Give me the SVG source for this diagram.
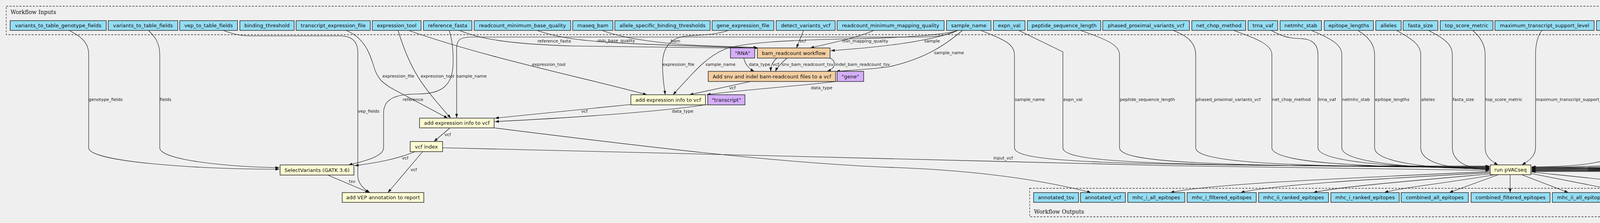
<svg xmlns="http://www.w3.org/2000/svg" width="5871" height="572" viewBox="0 0 5871 572">
<style>
.bg{fill:#efefef}
.cl{fill:none;stroke:#333;stroke-width:1.3;stroke-dasharray:5,3.5}
.ct{font-family:"DejaVu Serif","Liberation Serif",serif;font-size:14px;fill:#111}
.n rect{stroke:#2b2b2b;stroke-width:1.5}
.n text{font-family:"DejaVu Sans","Liberation Sans",sans-serif;font-size:13px;fill:#111;text-anchor:middle}
.inp rect{fill:#94ddf4}
.stp rect{fill:#fcfcd4}
.sub rect{fill:#f3cea1}
.cst rect{fill:#d5aefc}
.e path{fill:none;stroke:#111;stroke-width:1.1;marker-end:url(#ah)}
.e text{font-family:"DejaVu Sans","Liberation Sans",sans-serif;font-size:11px;fill:#222}
</style>
<defs>
<marker id="ah" markerUnits="userSpaceOnUse" markerWidth="10" markerHeight="8" refX="10" refY="3.5" orient="auto"><path d="M0,0 L10,3.5 L0,7 z" fill="#111"/></marker>
</defs>
<rect class="bg" x="0" y="0" width="5871" height="572"/>
<g id="cluster_inputs"><rect class="cl" x="16" y="16" width="5838" height="73"/><text class="ct" x="27" y="36">Workflow Inputs</text></g>
<g id="cluster_outputs"><rect class="cl" x="2636" y="483" width="1892" height="73"/><text class="ct" x="2647" y="548">Workflow Outputs</text></g>

<g id="connectors" class="e">
<path d="M177,78 C210,95 227,110 227,140 L227,379 C227,415 500,434 715,434"/>
<path d="M380,78 C398,95 409,112 409,140 L409,379 C409,412 600,429 715,430"/>
<path d="M1150,78 C1160,110 1160,140 1160,160 C1160,220 1130,241 1070,241 C1010,241 982,255 982,290 L982,379 C982,400 940,412 892,423"/>
<path d="M1063,389 C1010,410 960,418 908,425"/>
<path d="M571,78 C600,88 615,92 640,92 L870,92 C905,92 916,110 916,135 L916,450 C916,470 930,484 947,494"/>
<path d="M839,449 L945,494"/>
<path d="M1082,389 L993,494"/>
<path d="M1152,328 L1111,363"/>
<path d="M886,78 C940,100 950,150 960,180 C970,205 980,212 1000,225 L1146,303"/>
<path d="M1019,78 C1050,180 1080,220 1154,303"/>
<path d="M2450,78 C2430,90 2400,95 2350,95 L1210,95 C1180,95 1169,100 1169,125 L1169,302"/>
<path d="M1615,268 L1267,303"/>
<path d="M1812,268 C1700,285 1500,300 1267,312"/>
<path d="M1265,328 C1600,370 2000,420 2300,430 C2550,440 2700,470 2793,494"/>
<path d="M1133,379 C1800,395 2600,415 3000,425 C3400,432 3700,437 3813,437"/>
<path d="M1046,78 C1250,150 1500,200 1656,243"/>
<path d="M1865,78 C1830,90 1790,90 1760,92 C1710,96 1696,130 1696,165 C1696,200 1700,220 1703,243"/>
<path d="M2452,78 C2420,90 2300,97 2200,99 C2000,103 1900,110 1856,126 C1810,145 1780,180 1723,243"/>
<path d="M1922,209 L1765,243"/>
<path d="M2142,209 C2000,225 1900,230 1809,243"/>
<path d="M1541,78 C1600,100 1700,113 1800,117 C1880,120 1920,121 1939,122"/>
<path d="M1374,78 C1410,90 1440,96 1470,100 C1530,109 1650,115 1939,123"/>
<path d="M1176,78 C1230,100 1300,113 1470,118 C1700,122 1850,123 1939,124"/>
<path d="M2057,78 L2039,123"/>
<path d="M2237,78 C2200,95 2130,110 2074,123"/>
<path d="M2452,78 C2400,100 2300,118 2127,130"/>
<path d="M1904,149 C1908,165 1915,175 1931,183"/>
<path d="M1989,149 C1978,158 1973,170 1973,183"/>
<path d="M2015,149 C2000,162 1990,172 1985,183"/>
<path d="M2125,149 C2142,158 2140,175 2117,183"/>
<path d="M2464,78 C2420,115 2370,150 2277,171 C2230,178 2180,180 2140,183"/>
<path d="M2511,78 C2560,98 2597,110 2597,140 L2597,379 C2597,415 2797,426 3813,426"/>
<path d="M2608,78 L2721,133 L2721,379 C2721,415 2921,427 3813,427"/>
<path d="M2766,78 C2830,100 2866,115 2866,140 L2866,379 C2866,415 3066,428 3813,428"/>
<path d="M3003,78 C3040,92 3061,110 3061,140 L3061,379 C3061,415 3261,429 3813,429"/>
<path d="M3158,78 C3220,100 3256,115 3256,140 L3256,379 C3256,415 3456,430 3813,430"/>
<path d="M3254,78 C3280,92 3295,98 3330,99 C3360,100 3374,115 3374,140 L3374,379 C3374,415 3574,431 3813,431"/>
<path d="M3357,78 C3410,100 3435,115 3435,140 L3435,379 C3435,415 3600,432 3813,432"/>
<path d="M3476,78 C3505,95 3519,115 3519,140 L3519,379 C3519,415 3650,433 3813,433"/>
<path d="M3575,78 C3615,100 3637,115 3637,140 L3637,379 C3637,415 3700,434 3813,434"/>
<path d="M3657,78 C3700,100 3718,115 3718,140 L3718,379 C3718,415 3760,435 3813,435"/>
<path d="M3770,78 C3790,95 3802,115 3802,140 L3802,379 C3802,400 3815,412 3835,423"/>
<path d="M3947,78 C3935,95 3931,115 3931,140 L3931,379 C3931,400 3915,412 3896,423"/>
<path d="M4164,78 C4155,95 4150,115 4150,140 L4150,379 C4150,415 4050,428 3921,428"/>
<path d="M4299,78 C4295,95 4292,115 4292,140 L4292,379 C4292,415 4150,429 3921,429"/>
<path d="M4425,78 C4405,98 4397,115 4397,140 L4397,379 C4397,415 4250,430 3921,430"/>
<path d="M4570,78 C4558,98 4553,115 4553,140 L4553,379 C4553,415 4400,431 3921,431"/>
<path d="M4665,78 C4653,98 4649,115 4649,140 L4649,379 C4649,415 4500,432 3921,432"/>
<path d="M4779,78 C4757,98 4749,115 4749,140 L4749,379 C4749,415 4600,433 3921,433"/>
<path d="M4958,78 C4925,98 4913,115 4913,140 L4913,379 C4913,415 4750,434 3921,434"/>
<path d="M5128,78 C5118,98 5114,115 5114,140 L5114,379 C5114,415 4950,435 3921,435"/>
<path d="M5224,78 C5210,98 5204,115 5204,140 L5204,379 C5204,415 5050,436 3921,436"/>
<path d="M5366,78 C5340,98 5329,115 5329,140 L5329,379 C5329,415 5150,437 3921,437"/>
<path d="M5531,78 C5518,98 5512,115 5512,140 L5512,379 C5512,415 5350,438 3921,438"/>
<path d="M5663,78 C5640,98 5632,115 5632,140 L5632,379 C5632,415 5450,439 3921,439"/>
<path d="M5797,78 C5787,98 5783,115 5783,140 L5783,379 C5783,415 5600,440 3921,440"/>
<path d="M3815,440 C3500,455 3100,470 2996,494"/>
<path d="M3815,443 C3500,460 3250,475 3176,494"/>
<path d="M3815,446 C3600,465 3420,480 3362,494"/>
<path d="M3828,448 C3700,470 3580,482 3544,494"/>
<path d="M3836,448 L3710,494"/>
<path d="M3866,448 L3866,494"/>
<path d="M3895,448 L4015,494"/>
<path d="M3919,445 L4168,494"/>
<path d="M3919,441 C4100,460 4300,480 4364,494"/>
<text x="227" y="259">genotype_fields</text>
<text x="409" y="259">fields</text>
<text x="1031" y="259">reference</text>
<text x="1029" y="409">vcf</text>
<text x="916" y="289">vep_fields</text>
<text x="893" y="469">tsv</text>
<text x="1051" y="439">vcf</text>
<text x="1138" y="349">vcf</text>
<text x="979" y="199">expression_file</text>
<text x="1077" y="199">expression_tool</text>
<text x="1169" y="199">sample_name</text>
<text x="1488" y="289">vcf</text>
<text x="1720" y="289">data_type</text>
<text x="2543" y="409">input_vcf</text>
<text x="1362" y="169">expression_tool</text>
<text x="1696" y="169">expression_file</text>
<text x="1806" y="169">sample_name</text>
<text x="1867" y="229">vcf</text>
<text x="2076" y="229">data_type</text>
<text x="1717" y="109">bam</text>
<text x="1530" y="108">min_base_quality</text>
<text x="1376" y="109">reference_fasta</text>
<text x="2047" y="109">vcf</text>
<text x="2156" y="109">min_mapping_quality</text>
<text x="2366" y="109">sample</text>
<text x="1917" y="169">data_type</text>
<text x="1978" y="169">vcf</text>
<text x="2001" y="169">snv_bam_readcount_tsv</text>
<text x="2138" y="169">indel_bam_readcount_tsv</text>
<text x="2391" y="139">sample_name</text>
<text x="2598" y="259">sample_name</text>
<text x="2722" y="259">expn_val</text>
<text x="2867" y="259">peptide_sequence_length</text>
<text x="3062" y="259">phased_proximal_variants_vcf</text>
<text x="3257" y="259">net_chop_method</text>
<text x="3375" y="259">trna_vaf</text>
<text x="3436" y="259">netmhc_stab</text>
<text x="3520" y="259">epitope_lengths</text>
<text x="3638" y="259">alleles</text>
<text x="3719" y="259">fasta_size</text>
<text x="3803" y="259">top_score_metric</text>
<text x="3932" y="259">maximum_transcript_support_level</text>
<text x="4151" y="259">normal_sample_name</text>
<text x="4293" y="259">n_threads</text>
<text x="4398" y="259">minimum_fold_change</text>
<text x="4554" y="259">normal_cov</text>
<text x="4650" y="259">tdna_vaf</text>
<text x="4750" y="259">net_chop_threshold</text>
<text x="4914" y="259">downstream_sequence_length</text>
<text x="5115" y="259">tdna_cov</text>
<text x="5205" y="259">normal_vaf</text>
<text x="5330" y="259">additional_report_columns</text>
<text x="5513" y="259">exclude_nas</text>
<text x="5633" y="259">prediction_algorithms</text>
<text x="5784" y="259">trna_cov</text>
</g>

<g id="in_variants_to_table_genotype_fields" class="n inp"><rect x="26" y="53" width="246" height="25"/><text x="149" y="70">variants_to_table_genotype_fields</text></g>
<g id="in_variants_to_table_fields" class="n inp"><rect x="277" y="53" width="178" height="25"/><text x="366" y="70">variants_to_table_fields</text></g>
<g id="in_vep_to_table_fields" class="n inp"><rect x="460" y="53" width="148" height="25"/><text x="534" y="70">vep_to_table_fields</text></g>
<g id="in_binding_threshold" class="n inp"><rect x="614" y="53" width="139" height="25"/><text x="683.5" y="70">binding_threshold</text></g>
<g id="in_transcript_expression_file" class="n inp"><rect x="758" y="53" width="190" height="25"/><text x="853" y="70">transcript_expression_file</text></g>
<g id="in_expression_tool" class="n inp"><rect x="953" y="53" width="125" height="25"/><text x="1015.5" y="70">expression_tool</text></g>
<g id="in_reference_fasta" class="n inp"><rect x="1084" y="53" width="124" height="25"/><text x="1146" y="70">reference_fasta</text></g>
<g id="in_readcount_minimum_base_quality" class="n inp"><rect x="1214" y="53" width="247" height="25"/><text x="1337.5" y="70">readcount_minimum_base_quality</text></g>
<g id="in_rnaseq_bam" class="n inp"><rect x="1466" y="53" width="103" height="25"/><text x="1517.5" y="70">rnaseq_bam</text></g>
<g id="in_allele_specific_binding_thresholds" class="n inp"><rect x="1574" y="53" width="244" height="25"/><text x="1696" y="70">allele_specific_binding_thresholds</text></g>
<g id="in_gene_expression_file" class="n inp"><rect x="1823" y="53" width="158" height="25"/><text x="1902" y="70">gene_expression_file</text></g>
<g id="in_detect_variants_vcf" class="n inp"><rect x="1987" y="53" width="151" height="25"/><text x="2062.5" y="70">detect_variants_vcf</text></g>
<g id="in_readcount_minimum_mapping_quality" class="n inp"><rect x="2143" y="53" width="274" height="25"/><text x="2280" y="70">readcount_minimum_mapping_quality</text></g>
<g id="in_sample_name" class="n inp"><rect x="2423" y="53" width="114" height="25"/><text x="2480" y="70">sample_name</text></g>
<g id="in_expn_val" class="n inp"><rect x="2543" y="53" width="81" height="25"/><text x="2583.5" y="70">expn_val</text></g>
<g id="in_peptide_sequence_length" class="n inp"><rect x="2630" y="53" width="188" height="25"/><text x="2724" y="70">peptide_sequence_length</text></g>
<g id="in_phased_proximal_variants_vcf" class="n inp"><rect x="2823" y="53" width="222" height="25"/><text x="2934" y="70">phased_proximal_variants_vcf</text></g>
<g id="in_net_chop_method" class="n inp"><rect x="3051" y="53" width="138" height="25"/><text x="3120" y="70">net_chop_method</text></g>
<g id="in_trna_vaf" class="n inp"><rect x="3195" y="53" width="76" height="25"/><text x="3233" y="70">trna_vaf</text></g>
<g id="in_netmhc_stab" class="n inp"><rect x="3277" y="53" width="106" height="25"/><text x="3330" y="70">netmhc_stab</text></g>
<g id="in_epitope_lengths" class="n inp"><rect x="3390" y="53" width="126" height="25"/><text x="3453" y="70">epitope_lengths</text></g>
<g id="in_alleles" class="n inp"><rect x="3522" y="53" width="65" height="25"/><text x="3554.5" y="70">alleles</text></g>
<g id="in_fasta_size" class="n inp"><rect x="3592" y="53" width="89" height="25"/><text x="3636.5" y="70">fasta_size</text></g>
<g id="in_top_score_metric" class="n inp"><rect x="3687" y="53" width="135" height="25"/><text x="3754.5" y="70">top_score_metric</text></g>
<g id="in_maximum_transcript_support_level" class="n inp"><rect x="3827" y="53" width="254" height="25"/><text x="3954" y="70">maximum_transcript_support_level</text></g>
<g id="in_normal_sample_name" class="n inp"><rect x="4087" y="53" width="167" height="25"/><text x="4170.5" y="70">normal_sample_name</text></g>
<g id="in_n_threads" class="n inp"><rect x="4259" y="53" width="87" height="25"/><text x="4302.5" y="70">n_threads</text></g>
<g id="in_minimum_fold_change" class="n inp"><rect x="4352" y="53" width="171" height="25"/><text x="4437.5" y="70">minimum_fold_change</text></g>
<g id="in_normal_cov" class="n inp"><rect x="4528" y="53" width="98" height="25"/><text x="4577" y="70">normal_cov</text></g>
<g id="in_tdna_vaf" class="n inp"><rect x="4632" y="53" width="79" height="25"/><text x="4671.5" y="70">tdna_vaf</text></g>
<g id="in_net_chop_threshold" class="n inp"><rect x="4717" y="53" width="149" height="25"/><text x="4791.5" y="70">net_chop_threshold</text></g>
<g id="in_downstream_sequence_length" class="n inp"><rect x="4872" y="53" width="220" height="25"/><text x="4982" y="70">downstream_sequence_length</text></g>
<g id="in_tdna_cov" class="n inp"><rect x="5098" y="53" width="81" height="25"/><text x="5138.5" y="70">tdna_cov</text></g>
<g id="in_normal_vaf" class="n inp"><rect x="5185" y="53" width="96" height="25"/><text x="5233" y="70">normal_vaf</text></g>
<g id="in_additional_report_columns" class="n inp"><rect x="5287" y="53" width="194" height="25"/><text x="5384" y="70">additional_report_columns</text></g>
<g id="in_exclude_nas" class="n inp"><rect x="5487" y="53" width="103" height="25"/><text x="5538.5" y="70">exclude_nas</text></g>
<g id="in_prediction_algorithms" class="n inp"><rect x="5595" y="53" width="164" height="25"/><text x="5677" y="70">prediction_algorithms</text></g>
<g id="in_trna_cov" class="n inp"><rect x="5764" y="53" width="79" height="25"/><text x="5803.5" y="70">trna_cov</text></g>

<g id="step_select_variants" class="n stp"><rect x="717" y="423" width="189" height="26"/><text x="811.5" y="440.5">SelectVariants (GATK 3.6)</text></g>
<g id="step_add_vep_annotation" class="n stp"><rect x="876" y="494" width="209" height="25"/><text x="980.5" y="511">add VEP annotation to report</text></g>
<g id="step_vcf_index" class="n stp"><rect x="1050" y="363" width="83" height="26"/><text x="1091.5" y="380.5">vcf index</text></g>
<g id="step_add_transcript_expression" class="n stp"><rect x="1074" y="303" width="191" height="25"/><text x="1169.5" y="320">add expression info to vcf</text></g>
<g id="step_add_gene_expression" class="n stp"><rect x="1615" y="243" width="191" height="26"/><text x="1710.5" y="260.5">add expression info to vcf</text></g>
<g id="const_transcript" class="n cst"><rect x="1812" y="243" width="95" height="26"/><text x="1859.5" y="260.5">"transcript"</text></g>
<g id="const_rna" class="n cst"><rect x="1870" y="123" width="62" height="26"/><text x="1901" y="140.5">"RNA"</text></g>
<g id="step_bam_readcount" class="n sub"><rect x="1939" y="123" width="186" height="26"/><text x="2032" y="140.5">bam_readcount workflow</text></g>
<g id="step_add_bam_readcount_to_vcf" class="n sub"><rect x="1813" y="183" width="326" height="26"/><text x="1976" y="200.5">Add snv and indel bam-readcount files to a vcf</text></g>
<g id="const_gene" class="n cst"><rect x="2143" y="183" width="68" height="26"/><text x="2177" y="200.5">"gene"</text></g>
<g id="step_pvacseq" class="n stp"><rect x="3815" y="423" width="104" height="25"/><text x="3867" y="440">run pVACseq</text></g>

<g id="out_annotated_tsv" class="n inp"><rect x="2646" y="494" width="115" height="25"/><text x="2703.5" y="511">annotated_tsv</text></g>
<g id="out_annotated_vcf" class="n inp"><rect x="2766" y="494" width="115" height="25"/><text x="2823.5" y="511">annotated_vcf</text></g>
<g id="out_mhc_i_all_epitopes" class="n inp"><rect x="2887" y="494" width="146" height="25"/><text x="2960" y="511">mhc_i_all_epitopes</text></g>
<g id="out_mhc_i_filtered_epitopes" class="n inp"><rect x="3039" y="494" width="177" height="25"/><text x="3127.5" y="511">mhc_i_filtered_epitopes</text></g>
<g id="out_mhc_ii_ranked_epitopes" class="n inp"><rect x="3222" y="494" width="179" height="25"/><text x="3311.5" y="511">mhc_ii_ranked_epitopes</text></g>
<g id="out_mhc_i_ranked_epitopes" class="n inp"><rect x="3407" y="494" width="175" height="25"/><text x="3494.5" y="511">mhc_i_ranked_epitopes</text></g>
<g id="out_combined_all_epitopes" class="n inp"><rect x="3587" y="494" width="172" height="25"/><text x="3673" y="511">combined_all_epitopes</text></g>
<g id="out_combined_filtered_epitopes" class="n inp"><rect x="3766" y="494" width="202" height="25"/><text x="3867" y="511">combined_filtered_epitopes</text></g>
<g id="out_mhc_ii_all_epitopes" class="n inp"><rect x="3974" y="494" width="150" height="25"/><text x="4049" y="511">mhc_ii_all_epitopes</text></g>
<g id="out_mhc_ii_filtered_epitopes" class="n inp"><rect x="4130" y="494" width="182" height="25"/><text x="4221" y="511">mhc_ii_filtered_epitopes</text></g>
<g id="out_combined_ranked_epitopes" class="n inp"><rect x="4317" y="494" width="200" height="25"/><text x="4417" y="511">combined_ranked_epitopes</text></g>
</svg>
